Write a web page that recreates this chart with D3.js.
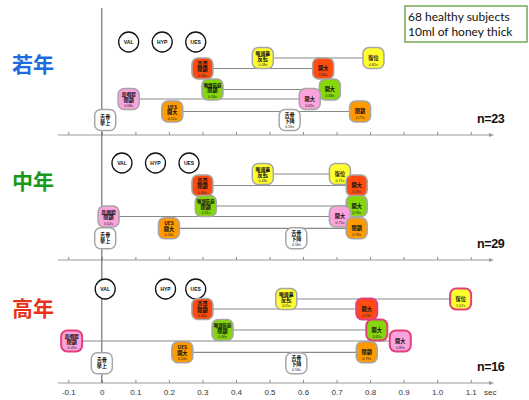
<!DOCTYPE html>
<html><head><meta charset="utf-8">
<script src="https://cdn.jsdelivr.net/npm/d3@7"></script>
<style>body{margin:0;background:#fff}svg{display:block}</style>
</head><body><svg id="c" width="529" height="400"></svg>
<script>
// ---------- data ----------
const xTickValues = [-0.1, 0, 0.1, 0.2, 0.3, 0.4, 0.5, 0.6, 0.7, 0.8, 0.9, 1.0, 1.1];
const groups = ["若年", "中年", "高年"];
const groupN = [23, 29, 16];
const markerNames = ["VAL", "HYP", "UES"];
const markersYoung = [0.08, 0.18, 0.28];
const markersMiddle = [0.06, 0.16, 0.26];
const markersOld = [0.01, 0.19, 0.28];
const startNames = ["喉頭蓋|反転", "声帯|閉鎖", "喉頭前庭|閉鎖", "鼻咽腔|閉鎖", "UES|開大", "舌骨|挙上"];
const endNames = ["復位", "開大", "開大", "開大", "閉鎖", "舌骨|下降"];
const startYoung = [0.48, 0.30, 0.33, 0.08, 0.21, 0.01];
const endYoung = [0.81, 0.66, 0.68, 0.62, 0.77, 0.56];
const startMiddle = [0.48, 0.30, 0.31, 0.02, 0.20, 0.01];
const endMiddle = [0.71, 0.76, 0.76, 0.71, 0.76, 0.58];
const startOld = [0.55, 0.30, 0.36, -0.09, 0.24, 0.00];
const endOld = [1.07, 0.79, 0.82, 0.89, 0.79, 0.58];
const highlightStartOld = [false, false, false, true, false, false];
const highlightEndOld = [true, true, true, true, false, false];

// ---------- style / layout ----------
const groupColors = ["#1e6ae0", "#17991a", "#e8331c"];
const rowColors = ["#ffff30", "#ff4b10", "#86d60c", "#fba3dc", "#ff9a00", "#ffffff"];
const axisYs = [135, 260, 383];
const labelYs = [63, 180, 307];
const rowOffsets = [
  [-93, -77, -66.5, -45.5, -36, -23.5, -15],
  [-97, -86, -74.5, -54, -43.5, -31.7, -21.7],
  [-94, -84, -74, -53, -42, -30.7, -19.7]
];
const panelData = [
  {markers: markersYoung, start: startYoung, end: endYoung, hs: null, he: null},
  {markers: markersMiddle, start: startMiddle, end: endMiddle, hs: null, he: null},
  {markers: markersOld, start: startOld, end: endOld, hs: highlightStartOld, he: highlightEndOld}
];

const svg = d3.select("#c");
const x = d3.scaleLinear().domain([-0.1, 1.1]).range([68.3, 470.7]);
const fmtTick = d => d === 0 ? "0" : d3.format(".1f")(d).replace("−", "-");
const fmtSec = d => d3.format(".2f")(d).replace("−", "-") + "s";
const cjk = "'Noto Sans CJK JP', 'Noto Sans', sans-serif";

// axes
axisYs.forEach((ay, i) => {
  const g = svg.append("g").attr("transform", `translate(0,${ay})`);
  const ax = d3.axisBottom(x).tickValues(xTickValues).tickSizeInner(-3).tickSizeOuter(0)
    .tickPadding(6).tickFormat(i === 2 ? fmtTick : () => "");
  g.call(ax);
  g.select(".domain").remove();
  g.selectAll(".tick line").attr("stroke", "#888");
  g.selectAll(".tick text").attr("fill", "#333").attr("font-size", 8)
    .attr("font-family", "'Liberation Sans', Arial, sans-serif");
  g.append("line").attr("x1", 58).attr("x2", 492).attr("y1", 0).attr("y2", 0)
    .attr("stroke", "#999").attr("stroke-width", 1.2);
  g.append("path").attr("d", "M494,0 L489,-2 L489,2 Z").attr("fill", "#999");
});
svg.append("text").attr("x", 484).attr("y", 394.5).text("sec")
  .attr("font-size", 8).attr("fill", "#333").attr("font-family", "'Liberation Sans', Arial, sans-serif");

// vertical zero line
svg.append("line").attr("x1", x(0)).attr("x2", x(0)).attr("y1", 8).attr("y2", 383)
  .attr("stroke", "#555").attr("stroke-width", 1);

// group labels
groups.forEach((name, i) => {
  svg.append("text").attr("x", 12).attr("y", labelYs[i]).attr("dominant-baseline", "central")
    .attr("font-size", 21).attr("font-weight", 700).attr("font-family", cjk)
    .attr("fill", groupColors[i]).text(name);
  svg.append("text").attr("x", 477).attr("y", axisYs[i] - 12)
    .attr("font-size", 12.5).attr("font-weight", "bold").attr("letter-spacing", -0.4)
    .attr("font-family", "'Liberation Sans', Arial, sans-serif").attr("fill", "#111")
    .text("n=" + groupN[i]);
});

function drawBox(g, cx, cy, name, value, fill, highlight, showTime) {
  const b = g.append("g").attr("transform", `translate(${cx},${cy})`);
  b.append("rect").attr("x", -10.5).attr("y", -10.5).attr("width", 21).attr("height", 21)
    .attr("rx", 6).attr("fill", fill)
    .attr("stroke", highlight ? "#e2407c" : "#a6a6a6").attr("stroke-width", highlight ? 2 : 1.5);
  const lines = name.split("|");
  let ys;
  if (showTime) ys = lines.length === 2 ? [-2.9, 2.5] : [1.9];
  else ys = [-0.9, 4.9];
  const t = b.append("text").attr("text-anchor", "middle").attr("fill", "#111");
  lines.forEach((s, k) => {
    const len = s.length;
    t.append("tspan").attr("x", 0).attr("y", ys[k])
      .attr("font-size", len >= 4 ? 4.4 : len === 3 ? 4.8 : 5.2).attr("font-weight", "bold")
      .attr("font-family", cjk).text(s);
  });
  if (showTime) {
    t.append("tspan").attr("x", 0).attr("y", lines.length === 2 ? 8 : 7.6)
      .attr("font-size", 3.6).attr("fill", "#222")
      .attr("font-family", "'Liberation Sans', Arial, sans-serif")
      .text(fmtSec(value));
  }
}

panelData.forEach((p, i) => {
  const ay = axisYs[i];
  const offs = rowOffsets[i];
  const g = svg.append("g");
  // connecting lines (not for hyoid row)
  p.start.forEach((s, r) => {
    if (r === 5) return;
    g.append("line").attr("x1", x(s)).attr("x2", x(p.end[r]))
      .attr("y1", ay + offs[r + 1]).attr("y2", ay + offs[r + 1])
      .attr("stroke", "#8a8a8a").attr("stroke-width", 1.2);
  });
  // marker circles
  p.markers.forEach((m, k) => {
    const c = g.append("g").attr("transform", `translate(${x(m)},${ay + offs[0]})`);
    c.append("circle").attr("r", 10).attr("fill", "#fff").attr("stroke", "#111").attr("stroke-width", 1.3);
    c.append("text").attr("text-anchor", "middle").attr("dominant-baseline", "central")
      .attr("font-size", 5).attr("font-weight", "bold")
      .attr("font-family", "'Liberation Sans', Arial, sans-serif").attr("fill", "#111").text(markerNames[k]);
  });
  // boxes
  p.start.forEach((s, r) => {
    const y = ay + offs[r + 1];
    drawBox(g, x(s), y, startNames[r], s, rowColors[r], p.hs ? p.hs[r] : false, r !== 5);
    drawBox(g, x(p.end[r]), y, endNames[r], p.end[r], rowColors[r], p.he ? p.he[r] : false, true);
  });
});

// legend box
svg.append("rect").attr("x", 405).attr("y", 6).attr("width", 122).attr("height", 36)
  .attr("fill", "#fff").attr("stroke", "#5c9a3c").attr("stroke-width", 1.3);
["68 healthy subjects", "10ml of honey thick"].forEach((t, k) => {
  svg.append("text").attr("x", 408).attr("y", 21 + k * 15).text(t)
    .attr("font-size", 12).attr("font-family", "Lato, 'Open Sans', sans-serif").attr("fill", "#111");
});
</script>
</body></html>
